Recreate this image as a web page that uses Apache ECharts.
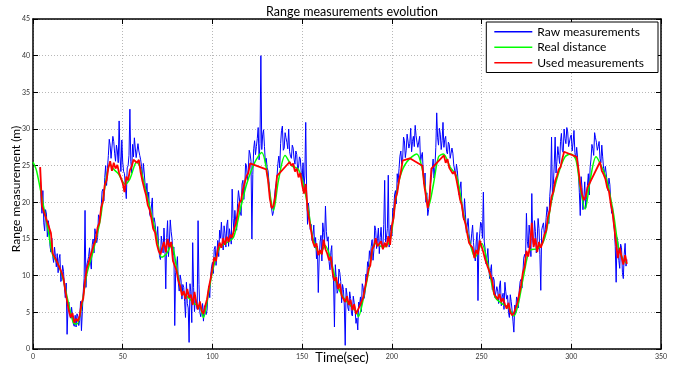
<!DOCTYPE html>
<html>
<head>
<meta charset="utf-8">
<script src="https://cdn.jsdelivr.net/npm/echarts@6/dist/echarts.min.js"></script>
<style>html,body{margin:0;padding:0;background:#fff}#c{width:683px;height:371px}</style>
</head>
<body>
<div id="c"></div>
<script>
const titleText = 'Range measurements evolution';
const xName = 'Time(sec)';
const yName = 'Range measurement (m)';
const seriesNames = ['Raw measurements', 'Real distance', 'Used measurements'];
const xTicks = [0, 50, 100, 150, 200, 250, 300, 350];
const yTicks = [0, 5, 10, 15, 20, 25, 30, 35, 40, 45];

// Real distance (smooth ground truth): time (s) and value (m)
const realT = [0,2,6,8.5,11,14,17,20,22.5,24.5,27,30,33.6,37.4,40,43,45,47.6,51.3,54,57.8,59.7,62.5,66,69,71.7,74.5,77.3,80,83,86.6,90.3,93,95,97.7,100.5,104.2,108,111.7,115.4,119.1,123.7,127.5,130.3,132.1,134,136.8,140.5,144.2,147.9,150.7,153.5,156.3,160,162.8,165.6,169.3,173,176.7,180.4,181.3,185,187.9,190.6,195.3,199,201.8,204.6,208.3,213.9,216.7,218.5,220.4,223.2,226,228.7,232.5,236.2,239.9,243.6,246.4,250.1,253.8,257.5,261.3,265,268,270.5,273.3,277,281.7,285.4,289.1,292.8,296.5,299.9,302.7,304.9,307.7,310.5,313.8,317,319.8,323.5,326.3,329.1,331];
const realV = [25.5,24.3,19.3,16.1,12.8,11.6,9.3,6.0,3.6,3.4,5.7,10.2,13.4,17.5,22.0,25.2,24.5,23.9,22.5,23.2,25.5,24.8,22.0,18.4,15.2,12.5,13.0,14.3,11.1,7.7,7.0,6.1,5.8,4.3,7.5,11.1,13.9,14.5,15.2,18.9,22.5,25.5,26.8,24.3,21.1,18.9,23.0,26.4,25.0,24.5,22.5,18.9,14.8,13.0,14.1,12.5,8.9,7.0,6.0,5.0,4.4,8.0,11.6,14.4,13.9,14.8,19.8,23.5,25.5,26.6,24.8,22.1,19.4,22.5,26.2,26.6,24.8,23.5,18.5,14.4,12.5,14.4,11.2,7.1,6.2,5.7,4.5,6.2,9.8,13.5,13.7,15.3,20.3,23.9,26.2,26.6,25.7,22.1,19.1,23.0,26.2,24.8,23.0,18.5,13.9,12.1,11.7];

// Raw measurements, one per second starting at t = 4 s
const rawStart = 4;
const rawV = [
24.8,18.5,17.2,19.0,15.3,16.6,13.2,12.6,13.9,11.2,
10.4,12.9,9.5,10.6,7.0,2.0,6.4,4.2,5.5,3.1,
3.0,4.5,3.9,2.5,7.8,18.9,11.5,12.6,11.9,14.2,
13.1,15.6,15.2,18.0,19.4,21.8,23.4,22.3,26.4,27.8,
26.1,28.3,25.6,27.0,31.1,24.2,25.5,23.9,20.5,25.0,
32.7,24.0,26.2,27.4,26.3,27.0,25.8,23.1,24.0,21.2,
20.0,18.4,19.5,16.5,17.2,15.0,14.1,12.2,14.3,16.5,
8.2,17.5,14.6,16.0,12.8,3.2,11.4,9.0,10.1,6.8,
8.4,4.3,6.2,0.9,7.8,14.5,5.1,7.2,17.5,5.0,
4.6,3.8,6.1,5.3,8.6,9.9,11.8,13.6,11.4,14.8,
16.2,17.3,13.5,15.8,16.9,14.0,15.5,21.8,16.0,17.4,
19.8,20.6,18.2,23.0,22.1,25.0,24.4,26.6,15.0,27.3,
26.5,28.7,25.8,40.0,29.2,27.6,26.0,24.3,21.5,19.1,
18.7,21.8,23.6,26.3,28.0,30.4,27.4,28.8,27.3,26.9,
26.0,27.4,25.2,26.5,24.8,25.9,23.2,22.0,30.9,17.0,
18.5,17.0,15.6,13.8,12.3,7.7,14.6,12.0,15.9,19.5,
14.7,11.9,13.2,10.0,3.0,9.6,8.0,10.4,6.3,8.1,
0.5,7.4,5.2,6.9,4.5,6.3,3.5,2.6,6.0,5.1,
8.4,7.6,9.8,11.2,12.3,14.9,13.5,16.2,15.1,13.0,
16.6,13.8,23.0,15.2,23.7,16.0,15.4,18.8,21.6,23.9,
24.6,27.0,25.8,28.4,27.1,29.5,28.0,26.9,29.0,30.5,
28.2,27.6,25.4,26.8,22.5,20.0,18.2,21.1,23.4,25.9,
24.8,32.2,27.8,29.3,28.4,27.5,29.0,26.6,27.9,25.8,
26.7,24.4,25.2,22.6,20.9,19.8,17.6,18.4,16.0,15.7,
14.3,16.9,13.1,14.6,6.6,15.8,16.9,21.4,13.6,12.4,
11.2,10.7,8.1,9.4,6.8,7.9,8.6,5.9,7.6,9.1,
6.8,5.0,7.4,5.3,2.3,4.9,6.8,8.0,9.5,10.3,
12.9,18.5,13.8,15.5,21.2,14.1,16.0,14.9,16.4,8.0,
16.8,15.5,17.9,18.6,20.8,28.9,22.4,28.9,25.6,26.4,
28.3,27.1,30.0,28.0,29.6,27.4,29.2,28.1,26.8,27.5,
24.0,18.2,22.0,20.6,19.2,22.3,21.0,25.9,27.3,29.5,
28.2,27.6,26.0,27.8,24.6,24.9,22.7,23.3,20.1,19.4,
16.3,9.1,14.5,11.0,13.8,9.6,14.4,12.2
];
// Raw measurements in between, starting at t = 4.5 s
const rawHalfStart = 4.5;
const rawHalfV = [
20.2,21.6,16.1,18.4,17.5,14.0,15.1,11.8,12.6,13.0,
12.3,9.2,11.4,8.5,9.0,5.6,4.8,5.7,3.4,4.6,
4.8,3.2,6.5,5.1,9.6,8.4,12.0,13.8,10.9,15.0,
16.4,14.5,18.3,17.6,21.5,20.2,25.0,24.6,28.6,26.0,
29.0,26.7,27.8,25.4,26.3,28.5,24.2,22.0,24.7,26.4,
25.6,27.9,28.8,26.1,28.0,26.4,24.9,25.3,22.3,22.6,
21.4,18.0,20.6,17.9,15.8,16.7,12.7,15.4,13.1,14.0,
15.2,12.6,17.6,15.0,13.9,10.4,12.6,7.9,9.4,8.8,
6.5,9.1,5.6,8.9,3.6,8.4,7.0,5.4,8.8,4.4,
6.2,5.9,4.7,7.4,7.0,11.2,10.3,14.0,13.1,12.6,
15.1,14.9,16.8,13.9,17.6,16.4,14.3,17.8,18.9,16.2,
21.6,18.7,22.5,20.4,25.3,23.0,27.1,25.6,23.8,28.4,
27.6,30.2,28.0,27.2,29.9,25.4,24.7,22.8,19.6,18.2,
20.5,22.6,25.3,24.7,29.8,27.1,29.5,28.2,30.0,26.3,
27.8,25.9,27.0,24.3,26.2,24.1,25.4,23.6,21.5,19.9,
16.3,14.8,16.9,15.2,14.0,12.4,15.5,17.2,14.6,16.0,
15.3,10.8,14.1,9.3,11.5,7.6,10.9,9.2,8.8,6.0,
8.3,5.6,7.8,4.8,7.2,5.5,4.2,6.4,7.1,8.9,
6.9,10.2,11.9,13.4,14.0,12.1,16.8,13.7,16.5,15.2,
14.1,17.0,14.6,16.4,13.9,16.9,19.2,21.0,19.8,22.7,
26.3,25.2,28.9,26.1,29.3,27.4,30.1,28.3,27.6,29.1,
27.5,29.0,26.3,24.1,24.0,21.3,19.0,22.4,24.5,23.3,
27.5,28.8,30.1,27.2,30.9,28.6,26.9,28.2,26.0,27.4,
25.1,23.5,24.3,21.0,22.8,18.4,20.5,15.9,17.8,14.6,
15.7,14.5,12.0,15.9,14.2,17.3,15.1,14.6,11.6,13.7,
9.6,11.5,9.8,7.0,8.5,6.2,9.3,7.1,5.4,7.8,
7.3,4.3,6.5,3.8,6.0,7.1,5.6,9.2,8.3,12.4,
12.3,14.7,16.9,12.6,14.8,17.5,13.1,17.8,12.9,16.2,
17.2,16.3,19.4,17.1,22.5,20.4,25.1,24.0,27.6,25.3,
29.4,26.8,28.7,30.2,27.6,28.9,27.0,29.8,25.9,26.1,
21.3,23.5,19.0,22.8,20.4,23.9,24.8,27.9,26.4,28.8,
27.1,28.3,25.4,26.2,23.9,25.1,21.6,22.4,18.5,17.3,
14.0,15.2,12.1,14.3,10.4,12.9,11.3
];

// Used measurements, one per second starting at t = 4 s (null = rejected)
const usedStart = 4;
const usedV = [
24.8,19.5,null,null,null,null,15.8,13.0,12.8,12.1,
11.9,11.0,10.4,9.6,8.0,6.5,5.2,4.3,4.9,3.6,
4.1,3.8,4.5,6.2,6.9,9.3,11.0,11.8,12.7,13.5,
14.3,14.9,16.6,17.2,19.3,20.1,22.4,23.0,24.7,25.6,
24.3,25.4,24.6,25.1,24.0,23.8,22.6,21.4,23.5,23.0,
24.4,24.9,25.8,26.0,25.4,25.8,24.1,22.9,21.9,21.0,
19.6,19.0,17.8,16.4,15.9,14.3,13.4,12.9,13.8,14.6,
13.2,15.0,13.9,14.6,12.0,11.8,10.7,9.3,8.6,7.3,
7.9,6.8,8.2,7.0,7.4,6.0,7.8,6.3,5.4,6.5,
5.2,4.8,5.9,6.8,8.4,9.6,11.0,12.5,12.0,13.6,
14.5,13.8,15.1,14.2,15.3,14.6,15.6,15.2,16.3,17.1,
18.4,19.9,20.3,21.8,22.0,23.6,24.0,25.3,25.2,null,
null,null,null,null,null,null,24.5,23.0,20.5,19.2,
19.5,20.8,23.6,null,null,null,null,null,null,25.5,
25.0,25.3,24.2,24.6,23.4,24.0,22.4,21.2,22.5,19.0,
17.5,16.1,14.6,13.9,14.4,12.8,13.5,12.9,14.9,13.6,
13.0,12.1,12.6,10.4,9.3,9.8,8.2,8.9,7.3,7.5,
6.4,7.2,6.0,6.7,5.3,6.1,4.8,4.6,5.8,6.4,
7.0,8.3,9.5,10.9,11.4,13.6,14.0,15.1,14.0,13.8,
14.7,13.6,14.5,13.9,15.4,14.2,16.8,17.9,20.5,21.3,
23.0,24.1,25.7,null,null,null,26.0,null,null,null,
null,null,null,25.0,22.4,20.8,19.2,20.5,24.6,null,
null,null,null,null,null,26.4,25.4,25.9,24.7,24.9,
23.9,24.2,23.1,21.8,20.4,19.6,17.9,17.1,15.8,14.5,
14.1,13.8,12.4,13.5,12.9,14.8,15.0,13.2,12.2,11.5,
11.4,10.1,9.2,7.5,7.3,6.8,7.5,6.4,6.9,6.1,
5.5,6.3,5.0,4.6,4.9,5.6,6.3,7.5,8.7,10.4,
11.2,13.4,12.6,14.1,17.2,13.9,15.1,13.2,14.6,13.8,
14.5,15.6,16.1,18.0,18.9,20.8,21.4,22.9,23.6,24.5,
24.8,25.9,26.9,null,null,null,null,null,null,26.2,
24.5,22.4,21.1,20.3,20.8,22.0,null,null,null,null,
null,null,25.5,24.3,23.8,23.2,22.0,21.5,19.8,18.6,
16.5,14.3,12.4,13.8,12.6,11.5,12.8,11.6
];

const rawData = [];
rawV.forEach((v, i) => {
  rawData.push([rawStart + i, v]);
  if (i < rawHalfV.length) rawData.push([rawHalfStart + i, rawHalfV[i]]);
});
const usedData = [];
usedV.forEach((v, i) => { if (v !== null) usedData.push([usedStart + i, v]); });
const realData = realT.map((t, i) => [t, realV[i]]);

const FONT = 'Lato';
const dotted = { show: true, lineStyle: { color: '#b8b8b8', type: [1, 2], width: 1 } };
const frameLine = { show: true, onZero: false, lineStyle: { color: '#000', width: 1.5 } };
const tick = { show: true, inside: true, length: 5, lineStyle: { color: '#000', width: 1 } };
const tickLabel = { fontSize: 7, color: '#333', fontFamily: FONT };

const chart = echarts.init(document.getElementById('c'), null, { renderer: 'canvas' });
chart.setOption({
  animation: false,
  backgroundColor: '#fff',
  title: {
    text: titleText, left: 347, top: 0, textAlign: 'center',
    textStyle: { fontSize: 12.5, fontWeight: 'normal', color: '#000', fontFamily: FONT }
  },
  legend: {
    right: 25, top: 22, orient: 'vertical',
    icon: 'rect', itemWidth: 38, itemHeight: 1.5, itemGap: 2,
    padding: [3, 14, 3, 8],
    backgroundColor: '#fff', borderColor: '#000', borderWidth: 1,
    textStyle: { fontSize: 12, lineHeight: 13.5, color: '#000', fontFamily: FONT, padding: [0, 0, 0, 0] },
    data: seriesNames
  },
  grid: { left: 33, right: 22, top: 19, bottom: 22, containLabel: false, outerBoundsMode: 'none' },
  xAxis: [{
    type: 'value', min: xTicks[0], max: xTicks[xTicks.length - 1], interval: 50,
    name: xName, nameLocation: 'middle', nameGap: 9, nameMoveOverlap: false,
    nameTextStyle: { fontSize: 13, color: '#000', fontFamily: FONT, verticalAlign: 'middle', padding: [0, 10, 0, 0] },
    axisLine: frameLine, axisTick: tick, axisLabel: Object.assign({ margin: 4 }, tickLabel),
    splitLine: dotted
  }, {
    type: 'value', position: 'top', min: xTicks[0], max: xTicks[xTicks.length - 1], interval: 50,
    axisLine: frameLine, axisTick: tick, axisLabel: { show: false }, splitLine: { show: false }
  }],
  yAxis: [{
    type: 'value', min: yTicks[0], max: yTicks[yTicks.length - 1], interval: 5,
    name: yName, nameLocation: 'middle', nameGap: 17, nameRotate: 90, nameMoveOverlap: false,
    nameTextStyle: { fontSize: 12, color: '#000', fontFamily: FONT, verticalAlign: 'middle', align: 'center', padding: [0, 10, 0, 0] },
    axisLine: frameLine, axisTick: tick, axisLabel: Object.assign({ margin: 3 }, tickLabel),
    splitLine: dotted
  }, {
    type: 'value', position: 'right', min: yTicks[0], max: yTicks[yTicks.length - 1], interval: 5,
    axisLine: frameLine, axisTick: tick, axisLabel: { show: false }, splitLine: { show: false }
  }],
  series: [{
    name: seriesNames[0], type: 'line', data: rawData, symbol: 'none',
    lineStyle: { color: '#0000ff', width: 1 }, itemStyle: { color: '#0000ff' }, z: 2
  }, {
    name: seriesNames[1], type: 'line', data: realData, symbol: 'none', smooth: 0.3,
    lineStyle: { color: '#00ff00', width: 1.5 }, itemStyle: { color: '#00ff00' }, z: 3
  }, {
    name: seriesNames[2], type: 'line', data: usedData, symbol: 'none',
    lineStyle: { color: '#ff0000', width: 1.8 }, itemStyle: { color: '#ff0000' }, z: 4
  }]
});
</script>
</body>
</html>
